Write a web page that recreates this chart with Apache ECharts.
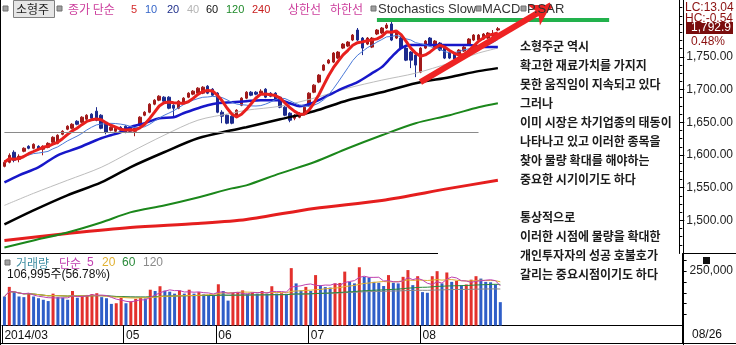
<!DOCTYPE html>
<html><head><meta charset="utf-8">
<script src="https://cdn.jsdelivr.net/npm/echarts@6/dist/echarts.min.js"></script>
<style>html,body{margin:0;padding:0;background:#fff}#c{width:736px;height:345px}</style>
</head><body><div id="c"></div>
<script>
// ---------- data ----------
const dates = ['03/27','03/28','03/31',
'04/01','04/02','04/03','04/04','04/07','04/08','04/09','04/10','04/11','04/14','04/15','04/16','04/17','04/18','04/21','04/22','04/23','04/24','04/25','04/28','04/29','04/30',
'05/02','05/07','05/08','05/09','05/12','05/13','05/14','05/15','05/16','05/19','05/20','05/21','05/22','05/23','05/26','05/27','05/28','05/29','05/30',
'06/02','06/03','06/05','06/09','06/10','06/11','06/12','06/13','06/16','06/17','06/18','06/19','06/20','06/23','06/24','06/25','06/26','06/27','06/30',
'07/01','07/02','07/03','07/04','07/07','07/08','07/09','07/10','07/11','07/14','07/15','07/16','07/17','07/18','07/21','07/22','07/23','07/24','07/25','07/28','07/29','07/30','07/31',
'08/01','08/04','08/05','08/06','08/07','08/08','08/11','08/12','08/13','08/14','08/18','08/19','08/20','08/21','08/22','08/25','08/26'];
const emptySlots = 37;
const categories = dates.concat(new Array(emptySlots).fill(''));

// [open, close, low, high]
const ohlc = [
[1582.6,1588.8,1581.1,1591.8],[1588.8,1599.5,1587.2,1602.5],[1604.1,1591.8,1588.8,1607.1],[1593.4,1597.9,1588.8,1601.0],
[1605.6,1610.2,1604.1,1611.7],[1613.2,1610.2,1608.7,1614.8],[1610.2,1616.3,1608.7,1617.8],[1613.2,1608.7,1607.1,1614.8],
[1608.7,1613.2,1599.5,1614.8],[1611.7,1617.8,1610.2,1619.4],[1619.4,1627.0,1617.8,1628.6],[1617.8,1630.1,1616.3,1631.6],
[1631.6,1636.2,1630.1,1637.8],[1639.3,1643.9,1637.8,1645.4],[1640.8,1646.9,1639.3,1648.5],[1651.5,1646.9,1645.4,1653.1],
[1650.0,1657.7,1648.5,1659.2],[1654.6,1660.7,1653.1,1662.3],[1662.3,1656.1,1654.6,1663.8],[1666.9,1653.1,1651.5,1673.0],
[1660.7,1640.8,1639.3,1662.3],[1650.0,1634.7,1631.6,1651.5],[1637.8,1642.4,1636.2,1643.9],[1636.2,1640.8,1631.6,1642.4],
[1642.4,1637.8,1634.7,1643.9],[1643.9,1634.7,1633.2,1645.4],[1642.4,1636.2,1634.7,1643.9],[1636.2,1640.8,1628.6,1642.4],
[1645.4,1657.7,1643.9,1659.2],[1660.7,1665.3,1659.2,1666.9],[1665.3,1677.6,1663.8,1679.1],[1677.6,1683.7,1676.0,1685.2],
[1683.7,1689.8,1682.2,1691.3],[1688.3,1682.2,1680.6,1689.8],[1688.3,1671.4,1669.9,1689.8],[1676.0,1671.4,1657.7,1677.6],
[1671.4,1682.2,1669.9,1683.7],[1680.6,1686.8,1679.1,1688.3],[1688.3,1694.4,1686.8,1695.9],[1692.9,1697.5,1691.3,1699.0],
[1694.4,1702.1,1692.9,1703.6],[1694.4,1703.6,1692.9,1705.1],[1705.1,1694.4,1692.9,1706.7],[1700.5,1691.3,1689.8,1702.1],
[1694.4,1665.3,1663.8,1695.9],[1665.3,1659.2,1648.5,1668.4],[1660.7,1648.5,1646.9,1662.3],[1659.2,1648.5,1646.9,1660.7],
[1657.7,1668.4,1656.1,1669.9],[1676.0,1686.8,1674.5,1688.3],[1686.8,1695.9,1685.2,1697.5],[1695.9,1691.3,1689.8,1697.5],
[1695.9,1692.9,1691.3,1697.5],[1694.4,1697.5,1692.9,1700.5],[1700.5,1688.3,1686.8,1702.1],[1694.4,1689.8,1688.3,1695.9],
[1694.4,1685.2,1683.7,1695.9],[1688.3,1673.0,1671.4,1689.8],[1673.0,1660.7,1659.2,1674.5],[1663.8,1653.1,1650.0,1665.3],
[1656.1,1660.7,1653.1,1662.3],[1657.7,1663.8,1656.1,1665.3],[1663.8,1673.0,1662.3,1674.5],[1676.0,1694.4,1674.5,1695.9],
[1695.9,1706.7,1694.4,1708.2],[1711.3,1722.0,1709.7,1723.5],[1729.6,1737.3,1728.1,1738.8],[1740.4,1744.9,1738.8,1746.5],
[1741.9,1755.7,1740.4,1757.2],[1748.0,1757.2,1746.5,1758.7],[1763.3,1769.4,1761.8,1771.0],[1766.4,1772.5,1764.8,1774.0],
[1775.6,1783.2,1774.0,1784.8],[1790.9,1775.6,1774.0,1794.0],[1778.6,1763.3,1752.6,1780.2],[1769.4,1778.6,1767.9,1780.2],
[1764.8,1778.6,1763.3,1780.2],[1784.8,1790.9,1783.2,1792.4],[1786.3,1794.0,1784.8,1795.5],[1794.0,1798.5,1792.4,1801.6],
[1800.1,1775.6,1774.0,1804.7],[1778.6,1787.8,1777.1,1789.4],[1778.6,1763.3,1761.8,1780.2],[1763.3,1744.9,1743.4,1764.8],
[1757.2,1744.9,1732.7,1758.7],[1752.6,1737.3,1718.9,1757.2],[1726.6,1763.3,1725.0,1764.8],[1763.3,1774.0,1761.8,1775.6],
[1778.6,1767.9,1766.4,1780.2],[1764.8,1774.0,1763.3,1775.6],[1771.0,1760.3,1758.7,1772.5],[1763.3,1748.0,1746.5,1764.8],
[1755.7,1748.0,1746.5,1757.2],[1754.1,1746.5,1744.9,1755.7],[1752.6,1760.3,1751.1,1761.8],[1758.7,1764.8,1757.2,1766.4],
[1769.4,1777.1,1767.9,1778.6],[1775.6,1783.2,1774.0,1784.8],[1775.6,1783.2,1774.0,1784.8],[1777.1,1784.8,1775.6,1786.3],
[1778.6,1786.3,1777.1,1787.8],[1781.7,1784.3,1780.2,1790.9],[1790.9,1792.9,1789.4,1795.5]];

// longer moving averages: [barIndex, value]
const ma20Pts = [[0,1558.1],[3,1568.8],[7,1581.1],[11,1599.5],[15,1610.2],[20,1625.5],[22,1630.1],[24,1634.7],[26,1642.4],[29,1648.5],[32,1656.1],[35,1657.7],[37,1663.8],[40,1671.4],[42,1676.0],[44,1679.1],[47,1680.6],[50,1682.2],[53,1683.7],[57,1683.7],[59,1679.1],[61,1674.5],[64,1680.6],[67,1691.3],[70,1702.1],[73,1711.3],[76,1725.0],[78,1734.2],[80,1749.5],[82,1763.3],[84,1767.9],[88,1767.9],[92,1767.9],[96,1767.9],[99,1764.8],[102,1764.8]];
const ma40Pts = [[0,1522.9],[6,1541.3],[13,1561.2],[20,1581.1],[26,1604.1],[33,1630.1],[40,1653.1],[47,1663.8],[50,1668.4],[57,1674.5],[64,1686.8],[71,1702.1],[78,1714.3],[85,1725.0],[92,1740.4],[98,1755.7],[102,1763.3]];
const ma60Pts = [[0,1493.8],[6,1515.2],[13,1538.2],[20,1558.1],[26,1581.1],[33,1604.1],[40,1625.5],[47,1637.8],[50,1642.4],[57,1654.6],[64,1666.9],[71,1683.7],[78,1695.9],[85,1709.7],[92,1718.9],[98,1728.1],[102,1732.7]];
const ma120Pts = [[0,1458.6],[6,1469.3],[13,1481.5],[20,1496.8],[26,1512.2],[33,1522.9],[40,1535.1],[47,1548.9],[50,1553.5],[57,1571.9],[64,1588.8],[71,1610.2],[78,1630.1],[85,1648.5],[92,1660.7],[98,1673.0],[102,1679.1]];
const ma240Pts = [[0,1469.3],[13,1480.0],[26,1489.2],[40,1495.3],[50,1501.4],[64,1518.3],[78,1530.5],[92,1548.9],[102,1561.2]];

const volumes = [133000,177000,153000,133000,130000,149000,133000,125000,118000,112000,
146000,130000,128000,118000,158000,127000,135000,140000,144000,148000,
130000,125000,99000,102000,127000,102000,111000,122000,127000,124000,
164000,158000,180000,160000,155000,146000,161000,146000,164000,146000,
153000,143000,140000,138000,189000,158000,114000,149000,151000,161000,
146000,149000,146000,158000,146000,180000,146000,148000,145000,263000,
193000,161000,177000,158000,231000,185000,176000,174000,193000,195000,
247000,200000,193000,267000,223000,220000,200000,196000,181000,231000,
196000,193000,223000,254000,185000,226000,153000,150000,226000,249000,
193000,243000,200000,205000,185000,188000,210000,226000,215000,200000,
198000,188400,106995];

const priceTicks = [1500,1550,1600,1650,1700,1750];
const priceMinorTicks = [1462.5,1475,1487.5,1512.5,1525,1537.5,1562.5,1575,1587.5,1612.5,1625,1637.5,1662.5,1675,1687.5,1712.5,1725,1737.5,1762.5,1775,1787.5,1800,1812.5,1825];
const volLabelTicks = [250000];
const volTicks = [50000,100000,150000,200000,250000,300000];

const annotation = ['소형주군 역시','확고한 재료가치를 가지지','못한 움직임이 지속되고 있다','그러나','이미 시장은 차기업종의 태동이','나타나고 있고 이러한 종목을','찾아 물량 확대를 해야하는','중요한 시기이기도 하다','','통상적으로','이러한 시점에 물량을 확대한','개인투자자의 성공 호불호가','갈리는 중요시점이기도 하다'];

// ---------- helpers ----------
function movingAverage(arr, n) {
  const out = [];
  for (let i = 0; i < arr.length; i++) {
    const s = Math.max(0, i - n + 1);
    let sum = 0;
    for (let j = s; j <= i; j++) sum += arr[j];
    out.push(+(sum / (i - s + 1)).toFixed(2));
  }
  return out;
}
function comma(n) { return String(Math.round(n)).replace(/\B(?=(\d{3})+(?!\d))/g, ','); }
const closes = ohlc.map(d => d[1]);
const ma5 = movingAverage(closes, 5);
const ma10 = movingAverage(closes, 10);
const volBars = volumes.map((v, i) => ({
  value: v,
  itemStyle: { color: (i > 0 && v > volumes[i - 1]) ? '#e3302c' : '#2f5ec8' }
}));
const vma5 = movingAverage(volumes, 5), vma20 = movingAverage(volumes, 20), vma60 = movingAverage(volumes, 60), vma120 = movingAverage(volumes, 120);
// month separators; a month that starts right next to the first label is not marked
function isMonthStart(i) {
  if (i >= dates.length) return false;
  if (i === 0) return true;
  if (i < 10) return false;
  return dates[i].slice(0, 2) !== dates[i - 1].slice(0, 2);
}
function monthLabel(i) { return i === 0 ? '2014/' + dates[0].slice(0, 2) : dates[i].slice(0, 2); }

const KR = '"Noto Sans CJK KR"';
const LAT = '"Liberation Sans"';
function txt(x, y, text, fill, font) {
  return { type: 'text', x: x, y: y, z: 100, silent: true,
    style: { text: text, fill: fill, font: font, verticalAlign: 'middle', align: 'left' } };
}
function sq(x, y) {
  return { type: 'rect', z: 100, silent: true, shape: { x: x, y: y, width: 5, height: 5 }, style: { fill: '#a0a0a0', stroke: '#707070', lineWidth: 1 } };
}
function hline(x1, x2, y, color) {
  return { type: 'line', z: 90, silent: true, shape: { x1: x1, y1: y, x2: x2, y2: y }, style: { stroke: color || '#000', lineWidth: 1 } };
}
function vline(x, y1, y2, color) {
  return { type: 'line', z: 90, silent: true, shape: { x1: x, y1: y1, x2: x, y2: y2 }, style: { stroke: color || '#000', lineWidth: 1 } };
}

function maLine(name, data, color, width, smooth) {
  return { name: name, type: 'line', xAxisIndex: 0, yAxisIndex: 0, data: data, symbol: 'none',
    smooth: smooth, lineStyle: { color: color, width: width }, silent: true };
}
function vmaLine(data, color) {
  return { type: 'line', xAxisIndex: 1, yAxisIndex: 2, data: data, symbol: 'none',
    lineStyle: { color: color, width: 1 }, silent: true };
}

const chart = echarts.init(document.getElementById('c'), null, { renderer: 'canvas' });
chart.setOption({
  animation: false,
  backgroundColor: '#fff',
  grid: [
    { left: 2, right: 53, top: 0, height: 253.5 },
    { left: 2, right: 53, top: 253.5, height: 72 }
  ],
  xAxis: [
    { type: 'category', gridIndex: 0, data: categories, boundaryGap: true,
      axisLine: { show: false }, axisTick: { show: false }, axisLabel: { show: false }, splitLine: { show: false } },
    { type: 'category', gridIndex: 1, data: categories, boundaryGap: true,
      axisLine: { show: true, lineStyle: { color: '#000', width: 1 } },
      axisTick: { show: true, interval: (i) => isMonthStart(i), length: 18, lineStyle: { color: '#000' } },
      axisLabel: { show: true, interval: (i) => isMonthStart(i), formatter: (v, i) => monthLabel(i),
        showMinLabel: true, hideOverlap: false,
        align: 'left', margin: 4, color: '#111', fontFamily: 'Liberation Sans', fontSize: 12 },
      splitLine: { show: false } }
  ],
  yAxis: [
    { type: 'value', gridIndex: 0, position: 'right', min: 1449.4, max: 1836.8,
      axisLine: { show: true, lineStyle: { color: '#000' } },
      axisTick: { show: true, length: 5, customValues: priceTicks, lineStyle: { color: '#000' } },
      axisLabel: { show: true, customValues: priceTicks, margin: 7, color: '#222', fontFamily: 'Liberation Sans', fontSize: 12,
        formatter: (v) => comma(v) + '.00' },
      splitLine: { show: false } },
    { type: 'value', gridIndex: 0, position: 'right', min: 1449.4, max: 1836.8,
      axisLine: { show: false },
      axisTick: { show: true, length: 3, customValues: priceMinorTicks, lineStyle: { color: '#000' } },
      axisLabel: { show: false }, splitLine: { show: false } },
    { type: 'value', gridIndex: 1, position: 'right', min: 0, max: 330000,
      axisLine: { show: true, lineStyle: { color: '#000' } },
      axisTick: { show: true, length: 4, customValues: volTicks, lineStyle: { color: '#000' } },
      axisLabel: { show: true, customValues: volLabelTicks, margin: 7, color: '#222', fontFamily: 'Liberation Sans', fontSize: 12,
        formatter: (v) => comma(v) },
      splitLine: { show: false } }
  ],
  series: [
    maLine('MA240', ma240Pts, '#e51e1e', 3, 0.3),
    maLine('MA120', ma120Pts, '#1b871b', 2, 0.3),
    maLine('MA60', ma60Pts, '#000000', 2.5, 0.3),
    maLine('MA40', ma40Pts, '#bdbdbd', 1, 0.3),
    maLine('MA20', ma20Pts, '#1717c9', 2.5, 0.3),
    maLine('MA10', ma10, '#4b7ad8', 1, false),
    maLine('MA5', ma5, '#e8201e', 3, false),
    { name: '소형주', type: 'candlestick', xAxisIndex: 0, yAxisIndex: 0, data: ohlc, barWidth: 3, silent: true,
      itemStyle: { color: '#a11a1a', color0: '#1c2a8e', borderColor: '#a11a1a', borderColor0: '#1c2a8e', borderWidth: 1 },
      markLine: { silent: true, symbol: ['none', 'none'], label: { show: false }, emphasis: { disabled: true },
        data: [
          [{ coord: [0, 1634.7], lineStyle: { color: '#8a8a8a', width: 1, type: 'solid' } }, { coord: [98, 1634.7] }],
          [{ coord: [77, 1806.2], lineStyle: { color: '#22b14c', width: 4, type: 'solid' } }, { coord: [125, 1806.2] }],
          [{ coord: [86, 1711.3], symbol: 'none', lineStyle: { color: '#ee2323', width: 6, type: 'solid' } },
           { coord: [113, 1829.0], symbol: 'arrow', symbolSize: [18, 20] }]
        ] } },
    { name: '거래량', type: 'bar', xAxisIndex: 1, yAxisIndex: 2, data: volBars, barWidth: 3, silent: true },
    vmaLine(vma120, '#8a8a8a'),
    vmaLine(vma60, '#2a8a3a'),
    vmaLine(vma20, '#e0b030'),
    vmaLine(vma5, '#c040b0')
  ],
  graphic: [
    vline(0.5, 0, 345), hline(0, 736, 343.5), hline(0, 438, 253.5), hline(683, 736, 253.5),
    vline(683.5, 0, 345),
    // top legend
    sq(3, 6),
    { type: 'rect', z: 99, silent: true, shape: { x: 13.5, y: 0.5, width: 41, height: 17 }, style: { fill: '#e6e6e6', stroke: '#808080', lineWidth: 1 } },
    txt(16, 9.5, '소형주', '#222', '12px ' + KR),
    sq(57, 6),
    txt(68, 9.5, '종가 단순', '#cc3d9c', '12px ' + KR),
    txt(131, 9.5, '5', '#d42a2a', '11px ' + LAT),
    txt(145, 9.5, '10', '#3565c8', '11px ' + LAT),
    txt(167, 9.5, '20', '#1f2f8a', '11px ' + LAT),
    txt(187, 9.5, '40', '#b4b4b4', '11px ' + LAT),
    txt(206, 9.5, '60', '#111', '11px ' + LAT),
    txt(226, 9.5, '120', '#1f8a2a', '11px ' + LAT),
    txt(252, 9.5, '240', '#c81e1e', '11px ' + LAT),
    txt(288, 9.5, '상한선', '#cc3d9c', '12px ' + KR),
    txt(330, 9.5, '하한선', '#cc3d9c', '12px ' + KR),
    sq(371, 6),
    txt(378, 9.5, 'Stochastics Slow', '#333', '13px ' + LAT),
    sq(476, 6),
    txt(482, 9.5, 'MACD', '#333', '13px ' + LAT),
    sq(521, 6),
    txt(527, 9.5, 'P.SAR', '#333', '13px ' + LAT),
    // right info
    txt(685, 7.5, 'LC:13.04', '#8b1010', '12px ' + LAT),
    txt(685, 19, 'HC:-0.54', '#8b1010', '12px ' + LAT),
    { type: 'rect', z: 101, silent: true, shape: { x: 686, y: 22, width: 47, height: 12 }, style: { fill: '#7a0d0d' } },
    { type: 'text', x: 691, y: 28, z: 102, silent: true, style: { text: '1,792.9', fill: '#fff', font: '12px ' + LAT, verticalAlign: 'middle' } },
    txt(691, 42, '0.48%', '#8b1010', '12px ' + LAT),
    // annotation
    { type: 'text', x: 520, y: 36.5, z: 100, silent: true,
      style: { text: annotation.join('\n'), fill: '#1b1b1b', font: 'bold 12px ' + KR, lineHeight: 19, verticalAlign: 'top' } },
    // volume legend
    sq(5, 260),
    txt(16, 263, '거래량', '#3f8ea2', '12px ' + KR),
    txt(59, 263, '단순', '#c040b0', '12px ' + KR),
    txt(87, 263, '5', '#c040b0', '12px ' + LAT),
    txt(102, 263, '20', '#e0b030', '12px ' + LAT),
    txt(122, 263, '60', '#2a8a3a', '12px ' + LAT),
    txt(143, 263, '120', '#8a8a8a', '12px ' + LAT),
    txt(7, 275, '106,995주(56.78%)', '#111', '12px ' + LAT + ', ' + KR),
    { type: 'rect', z: 101, silent: true, shape: { x: 703, y: 257, width: 7, height: 7 }, style: { fill: '#111' } },
    // date tail
    txt(692, 335, '08/26', '#111', '12px ' + LAT)
  ]
});
</script></body></html>
